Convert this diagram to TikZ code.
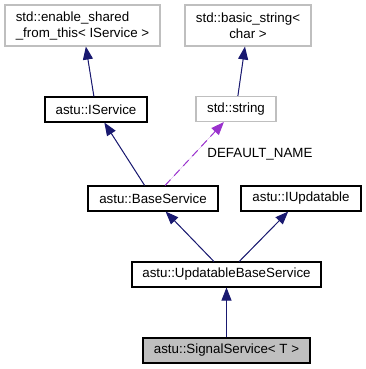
\documentclass[tikz,border=0pt]{standalone}
\usepackage{fontspec}
\setmainfont{Liberation Sans}
\usetikzlibrary{arrows.meta}
\definecolor{edgeblue}{HTML}{191970}
\definecolor{usepurple}{HTML}{9A32CD}
\definecolor{extgray}{HTML}{BFBFBF}
\begin{document}
\begin{tikzpicture}[x=0.75pt,y=-0.75pt,
  font=\fontsize{10}{12}\selectfont,
  classbox/.style={draw=black, line width=0.8pt, fill=white, inner sep=0pt,
    minimum height=18.75pt, align=center},
  extbox/.style={classbox, draw=extgray},
  focusbox/.style={classbox, fill=extgray},
  inherit/.style={draw=edgeblue, line width=0.75pt,
    -{Triangle[length=9.75pt,width=7.5pt]}, fill=edgeblue},
  usage/.style={draw=usepurple, line width=0.75pt, dash pattern=on 6pt off 4pt,
    -{Triangle[length=9.75pt,width=7.5pt]}, fill=usepurple}]
  \useasboundingbox (0,0) rectangle (366,369);

  % classes
  \node[extbox, minimum width=116.25pt, minimum height=30.75pt, align=left]
    (enable) at (82.5,25.5) {std::enable\_shared\\\_from\_this< IService >};
  \node[extbox, minimum width=94.5pt, minimum height=30.75pt]
    (basicstr) at (248,25.5) {std::basic\_string<\\char >};
  \node[classbox, minimum width=76.5pt] (iservice) at (96,109.5) {astu::IService};
  \node[extbox, minimum width=60pt] (stdstring) at (236,109) {std::string};
  \node[classbox, minimum width=97.5pt] (baseservice) at (153,198.5) {astu::BaseService};
  \node[classbox, minimum width=90pt] (iupdatable) at (301,198.5) {astu::IUpdatable};
  \node[classbox, minimum width=141.75pt] (updbase) at (226.5,274.5) {astu::UpdatableBaseService};
  \node[focusbox, minimum width=125.25pt] (signal) at (226.5,350.5) {astu::SignalService< T >};

  % inheritance and usage relations
  \draw[inherit] (iservice) -- (enable);
  \draw[inherit] (stdstring) -- (basicstr);
  \draw[inherit] (baseservice) -- (iservice);
  \draw[usage] (baseservice) -- node[pos=0.5, anchor=west, xshift=6pt, text=black]
    (defname) {DEFAULT\_NAME} (stdstring);
  \draw[inherit] (updbase) -- (baseservice);
  \draw[inherit] (updbase) -- (iupdatable);
  \draw[inherit] (signal) -- (updbase);
\end{tikzpicture}
\end{document}
